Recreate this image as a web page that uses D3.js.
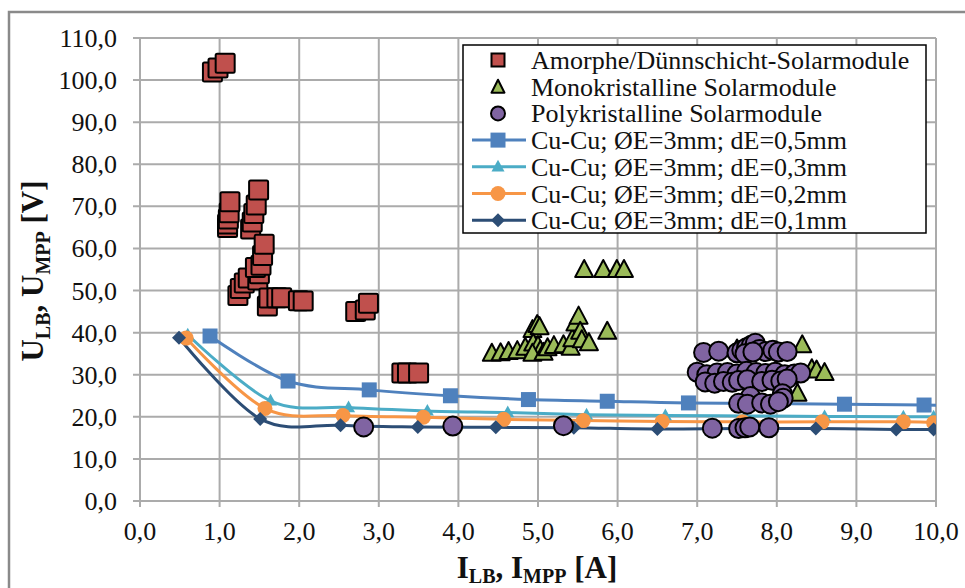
<!DOCTYPE html>
<html><head><meta charset="utf-8">
<script src="https://cdn.jsdelivr.net/npm/d3@7/dist/d3.min.js"></script>
<style>body{margin:0;background:#fff}svg{display:block}</style>
</head><body>
<svg id="c" width="965" height="588"></svg>
<script>
// ---- data ----
const xTicks = [0,1,2,3,4,5,6,7,8,9,10];
const yTicks = [0,10,20,30,40,50,60,70,80,90,100,110];
const fmt = v => v.toFixed(1).replace('.', ',');

const amorph = [[0.91,101.9],[0.98,102.9],[1.07,104.0],
 [1.10,65.0],[1.10,65.8],[1.11,67.0],[1.12,68.5],[1.13,71.1],
 [1.39,64.6],[1.41,66.3],[1.43,68.3],[1.46,70.3],[1.49,73.9],
 [1.23,48.8],[1.26,50.5],[1.31,51.8],[1.36,53.0],[1.48,52.5],[1.50,54.0],[1.45,55.5],[1.52,56.0],[1.54,58.3],[1.56,61.0],
 [1.60,46.3],[1.62,48.2],[1.72,48.3],[1.78,48.3],[1.99,47.6],[2.05,47.5],
 [2.71,45.0],[2.83,45.4],[2.87,47.0],[3.29,30.4],[3.36,30.4],[3.50,30.4]];

const mono = [[5.58,54.9],[5.82,54.9],[5.99,54.9],[6.08,54.9],
 [4.42,35.0],[4.53,35.1],[4.63,35.4],[4.74,35.6],[4.84,36.4],[4.93,40.6],[4.99,41.8],[5.02,41.3],
 [4.94,37.4],[5.00,36.8],[5.03,35.7],[4.93,35.0],[5.07,35.2],[5.12,36.3],[5.20,36.8],[5.32,37.0],
 [5.41,36.4],[5.43,38.4],[5.47,42.2],[5.51,43.8],[5.53,40.2],[5.55,38.2],[5.64,37.5],[5.87,40.2],
 [7.30,30.0],[7.50,36.0],[8.00,30.5],[8.26,25.5],[8.32,37.0],[8.44,31.3],[8.50,31.0],[8.60,30.4]];

const poly = [[2.81,17.6],[3.93,17.8],[5.32,17.9],
 [7.08,35.3],[7.27,35.6],[7.50,35.2],[7.56,35.8],[7.62,36.4],[7.68,37.0],[7.73,37.5],[7.78,36.0],
 [7.86,35.5],[7.95,35.8],[8.02,35.4],[8.13,35.5],[7.60,35.0],[7.70,35.4],
 [7.00,30.6],[7.12,30.0],[7.25,30.4],[7.38,30.5],[7.50,30.2],[7.62,30.8],[7.74,30.5],[7.86,30.3],
 [7.98,30.6],[8.10,30.0],[8.22,30.2],[8.30,30.4],
 [7.10,28.3],[7.22,28.0],[7.33,28.4],[7.44,28.2],[7.52,28.6],[7.63,28.8],[7.81,28.4],[7.94,28.7],[8.05,28.5],[8.13,29.0],
 [7.67,24.8],[8.07,25.5],[8.08,24.4],[7.52,23.2],[7.63,23.0],[7.81,23.3],[7.92,23.0],[8.02,23.6],
 [7.19,17.3],[7.52,17.2],[7.60,17.4],[7.66,17.6],[7.90,17.4]];

const d05 = [[0.88,39.2],[1.86,28.5],[2.88,26.4],[3.90,25.0],[4.88,24.1],[5.87,23.7],[6.89,23.3],[8.85,23.0],[9.85,22.8],[10.9,22.6]];
const d03 = [[0.60,39.5],[1.64,23.8],[2.62,22.2],[3.61,21.4],[4.62,21.0],[5.61,20.5],[6.60,20.3],[7.60,20.2],[8.60,20.1],[9.59,20.0],[9.97,20.0]];
const d02 = [[0.58,38.7],[1.57,22.0],[2.55,20.3],[3.56,19.9],[4.57,19.4],[5.57,19.1],[6.56,18.9],[7.57,18.8],[8.57,18.8],[9.59,18.8],[9.97,18.6]];
const d01 = [[0.49,38.8],[1.51,19.5],[2.52,18.0],[3.49,17.6],[4.47,17.5],[5.45,17.4],[6.50,17.1],[7.50,17.2],[8.49,17.2],[9.50,17.0],[9.97,17.0]];

const legendLabels = ["Amorphe/Dünnschicht-Solarmodule","Monokristalline Solarmodule","Polykristalline Solarmodule",
 "Cu-Cu; ØE=3mm; dE=0,5mm","Cu-Cu; ØE=3mm; dE=0,3mm","Cu-Cu; ØE=3mm; dE=0,2mm","Cu-Cu; ØE=3mm; dE=0,1mm"];

// ---- drawing ----
const svg = d3.select('#c');
const FONT = '"Liberation Serif","Times New Roman",serif';
const x = d3.scaleLinear().domain([0,10]).range([140,936]);
const y = d3.scaleLinear().domain([0,110]).range([501,38]);
const grid = '#ababab';

// outer border
svg.append('rect').attr('x',9).attr('y',12).attr('width',980).attr('height',600)
  .attr('fill','none').attr('stroke','#8a8a8a').attr('stroke-width',2.5);

// gridlines
const g = svg.append('g');
g.selectAll('.hy').data(yTicks).join('line')
  .attr('x1',x(0)-7).attr('x2',x(10)).attr('y1',d=>y(d)).attr('y2',d=>y(d))
  .attr('stroke',grid).attr('stroke-width',2);
g.selectAll('.vx').data(xTicks).join('line')
  .attr('x1',d=>x(d)).attr('x2',d=>x(d)).attr('y1',y(110)).attr('y2',y(0)+6)
  .attr('stroke',grid).attr('stroke-width',2);

// tick labels
svg.append('g').selectAll('text').data(yTicks).join('text')
  .attr('x',117).attr('y',d=>y(d)+9).attr('text-anchor','end')
  .attr('font-family',FONT).attr('font-size',26).attr('fill','#111').text(fmt);
svg.append('g').selectAll('text').data(xTicks).join('text')
  .attr('x',d=>x(d)).attr('y',540).attr('text-anchor','middle')
  .attr('font-family',FONT).attr('font-size',26).attr('fill','#111').text(fmt);

// axis titles
function titled(sel, main1, sub1, main2, sub2, tail, dy){
  sel.attr('font-family',FONT).attr('font-weight','bold').attr('font-size',31).attr('fill','#111');
  sel.append('tspan').text(main1);
  sel.append('tspan').attr('font-size',20).attr('dy',dy).text(sub1);
  sel.append('tspan').attr('dy',-dy).text(', '+main2);
  sel.append('tspan').attr('font-size',20).attr('dy',dy).text(sub2);
  sel.append('tspan').attr('dy',-dy).text(' '+tail);
}
titled(svg.append('text').attr('x',537).attr('y',578).attr('text-anchor','middle'),'I','LB','I','MPP','[A]',5);
titled(svg.append('text').attr('text-anchor','middle').attr('transform','translate(43,271) rotate(-90)'),'U','LB','U','MPP','[V]',7);

// clip
svg.append('clipPath').attr('id','pc').append('rect')
  .attr('x',x(0)-12).attr('y',y(110)-12).attr('width',x(10)-x(0)+12).attr('height',y(0)-y(110)+24);
const plot = svg.append('g').attr('clip-path','url(#pc)');

const line = d3.line().x(d=>x(d[0])).y(d=>y(d[1])).curve(d3.curveCardinal.tension(0));
const lineSeries = [
  {data:d05,color:'#4F81BD',mk:'square'},
  {data:d03,color:'#4BACC6',mk:'tri'},
  {data:d02,color:'#F79646',mk:'circle'},
  {data:d01,color:'#2C4D75',mk:'diamond'}];

function marker(sel, type, size){
  if(type==='square') return sel.append('rect').attr('x',-size/2).attr('y',-size/2).attr('width',size).attr('height',size);
  if(type==='circle') return sel.append('circle').attr('r',size/2);
  if(type==='tri'){const h=size*0.9; return sel.append('path').attr('d',`M0,${-h*0.6}L${size/2},${h*0.4}L${-size/2},${h*0.4}Z`);}
  if(type==='diamond'){const s=size/2; return sel.append('path').attr('d',`M0,${-s}L${s},0L0,${s}L${-s},0Z`);}
}

lineSeries.forEach(s=>{
  plot.append('path').datum(s.data).attr('d',line).attr('fill','none')
    .attr('stroke',s.color).attr('stroke-width',3);
});
lineSeries.forEach(s=>{
  const sizes={square:15,tri:13,circle:15,diamond:14};
  plot.append('g').selectAll('g').data(s.data).join('g')
    .attr('transform',d=>`translate(${x(d[0])},${y(d[1])})`)
    .each(function(){ marker(d3.select(this), s.mk, sizes[s.mk]).attr('fill',s.color); });
});

// scatter
plot.append('g').selectAll('rect').data(amorph).join('rect')
  .attr('x',d=>x(d[0])-9.5).attr('y',d=>y(d[1])-9.5).attr('width',19).attr('height',19).attr('rx',1.5)
  .attr('fill','#C0504D').attr('stroke','#000').attr('stroke-width',2);
plot.append('g').selectAll('path').data(mono).join('path')
  .attr('transform',d=>`translate(${x(d[0])},${y(d[1])})`)
  .attr('d','M0,-10L9,7L-9,7Z').attr('stroke-linejoin','round')
  .attr('fill','#9BBB59').attr('stroke','#000').attr('stroke-width',2);
plot.append('g').selectAll('circle').data(poly).join('circle')
  .attr('cx',d=>x(d[0])).attr('cy',d=>y(d[1])).attr('r',9.5)
  .attr('fill','#8064A2').attr('stroke','#000').attr('stroke-width',2);

// legend
const lg = svg.append('g');
lg.append('rect').attr('x',463).attr('y',45).attr('width',463).attr('height',188)
  .attr('fill','#fff').attr('stroke','#000').attr('stroke-width',1.5);
const rowY = i => 60 + i*26.7;
legendLabels.forEach((t,i)=>{
  lg.append('text').attr('x',531).attr('y',rowY(i)+9).attr('font-family',FONT).attr('font-size',26)
    .attr('fill','#111').text(t);
});
// scatter legend markers
const lm0 = lg.append('g').attr('transform',`translate(498,${rowY(0)})`);
lm0.append('rect').attr('x',-6.5).attr('y',-6.5).attr('width',13).attr('height',13).attr('fill','#C0504D').attr('stroke','#000').attr('stroke-width',2);
const lm1 = lg.append('g').attr('transform',`translate(498,${rowY(1)})`);
lm1.append('path').attr('d','M0,-7L6.5,6L-6.5,6Z').attr('fill','#9BBB59').attr('stroke','#000').attr('stroke-width',2).attr('stroke-linejoin','round');
const lm2 = lg.append('g').attr('transform',`translate(498,${rowY(2)})`);
lm2.append('circle').attr('r',7).attr('fill','#8064A2').attr('stroke','#000').attr('stroke-width',2);
lineSeries.forEach((s,i)=>{
  const yy=rowY(i+3);
  lg.append('line').attr('x1',472).attr('x2',526).attr('y1',yy).attr('y2',yy).attr('stroke',s.color).attr('stroke-width',3);
  const sizes={square:15,tri:13,circle:15,diamond:14};
  marker(lg.append('g').attr('transform',`translate(498,${yy})`), s.mk, sizes[s.mk]).attr('fill',s.color);
});
</script>
</body></html>
